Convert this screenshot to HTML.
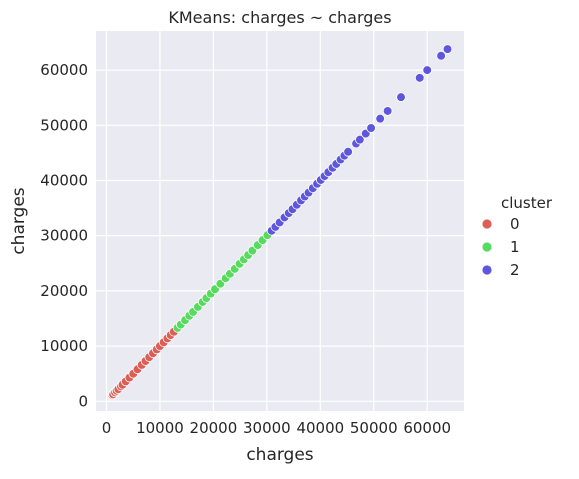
<!DOCTYPE html>
<html><head><meta charset="utf-8">
<style>
body{margin:0;background:#fff;font-family:"Liberation Sans","DejaVu Sans",sans-serif;}
svg text{font-family:"DejaVu Sans","Liberation Sans",sans-serif;fill:#262626;}
</style></head>
<body>
<svg id="chart" width="579" height="474" xmlns="http://www.w3.org/2000/svg"></svg>
<script>
const xTicks=[0,10000,20000,30000,40000,50000,60000];
const yTicks=[0,10000,20000,30000,40000,50000,60000];
const cluster0=[1100,1250,1600,1900,2200,2700,3000,3600,4300,5000,5800,6600,7300,8000,8700,9400,10000,10700,11400,12000,12600];
const cluster1=[13300,13900,14700,15500,16200,17100,18000,18700,19500,20300,21300,22300,23100,24000,24900,25700,26500,27300,28300,29200,30100];
const cluster2=[30900,31600,32400,33300,34100,34800,35600,36400,37100,37800,38600,39400,40100,40800,41500,42300,43000,43800,44500,45200,46700,47400,48500,49500,51200,52600,55100,58600,60000,62600,63800];
const clusters=[cluster0,cluster1,cluster2];
const colors=["#db5f57","#57db5f","#5f57db"];
const svg=document.getElementById('chart');
const NS="http://www.w3.org/2000/svg";
const X0=96,X1=464,Y0=31,Y1=411;
const xs=v=>106.5+v*53.45/10000;
const ys=v=>401.3-v*55.2/10000;
function el(t,a,txt){const e=document.createElementNS(NS,t);for(const k in a)e.setAttribute(k,a[k]);if(txt!==undefined)e.textContent=txt;svg.appendChild(e);return e;}
let bg=el('rect',{x:X0,y:Y0,width:X1-X0,height:Y1-Y0,fill:'#eaeaf2'});


xTicks.forEach(t=>{
  let g=el('line',{x1:xs(t),x2:xs(t),y1:Y0,y2:Y1,stroke:'#fff','stroke-width':1.2});
  
  
  let l=el('text',{x:xs(t),y:Y1+22,'text-anchor':'middle','font-size':15},String(t));
  
  
});
yTicks.forEach(t=>{
  let g=el('line',{x1:X0,x2:X1,y1:ys(t),y2:ys(t),stroke:'#fff','stroke-width':1.2});
  
  
  let l=el('text',{x:X0-8,y:ys(t)+5,'text-anchor':'end','font-size':15},String(t));
  
  
});
clusters.forEach((arr,ci)=>{
  arr.forEach(v=>{
    let c=el('circle',{cx:xs(v),cy:ys(v),r:4.4,fill:colors[ci],stroke:'#fff','stroke-width':0.8});
    
    
  });
});
let tt=el('text',{x:280,y:23,'text-anchor':'middle','font-size':16},'KMeans: charges ~ charges');


let xt=el('text',{x:280,y:460,'text-anchor':'middle','font-size':17},'charges');


let yt=el('text',{x:24,y:221,'text-anchor':'middle','font-size':17,transform:'rotate(-90 24 221)'},'charges');


let lt=el('text',{x:501,y:208,'font-size':15},'cluster');


colors.forEach((c,i)=>{
  let m=el('circle',{cx:487,cy:224+i*23,r:5,fill:c,stroke:'#fff','stroke-width':0.8});
  
  
  let t=el('text',{x:510,y:229+i*23,'font-size':15},String(i));
  
  
});
</script>
</body></html>
